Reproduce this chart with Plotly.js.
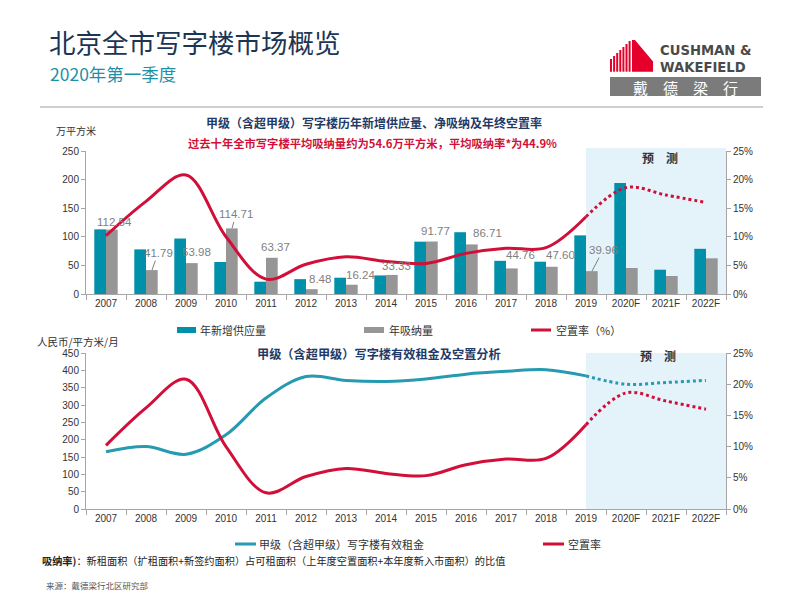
<!DOCTYPE html>
<html>
<head>
<meta charset="utf-8">
<script src="https://cdn.plot.ly/plotly-3.0.1.min.js"></script>
<style>
html,body{margin:0;padding:0;background:#fff;}
#chart{width:800px;height:600px;}
</style>
</head>
<body>
<div id="chart"></div>
<script>
// ---------- DATA ----------
const years = ['2007','2008','2009','2010','2011','2012','2013','2014','2015','2016','2017','2018','2019','2020F','2021F','2022F'];
const newSupply = [113, 78, 97, 56, 21.5, 26, 28.5, 32.5, 91.5, 108, 58, 56.5, 102.5, 194, 42.5, 79];
const netAbsorption = [112.54, 41.79, 53.98, 114.71, 63.37, 8.48, 16.24, 33.33, 91.77, 86.71, 44.76, 47.60, 39.96, 45.5, 31.5, 62.4];
const absorptionLabels = ['112.54','41.79','53.98','114.71','63.37','8.48','16.24','33.33','91.77','86.71','44.76','47.60','39.96'];
const vacancyRate = [0.102, 0.162, 0.208, 0.100, 0.026, 0.052, 0.065, 0.057, 0.0535, 0.071, 0.080, 0.081, 0.135, 0.186, 0.173, 0.160];
const effectiveRent = [165, 180, 158, 214, 320, 382, 371, 368, 375, 389, 397, 402, 384, 360, 365, 371];
const lastActualIndex = 12; // 2019

// ---------- STYLE ----------
const TEAL = 'rgb(0,144,170)';
const GRAY = 'rgb(150,150,150)';
const RED = 'rgb(209,15,56)';
const RENT = 'rgb(38,154,176)';
const NAVY = '#1f3a66';
const AXIS = '#a6a6a6';
const CJK = '"Noto Sans CJK SC", "Noto Sans", sans-serif';
const NUM = '"Liberation Sans", Arial, sans-serif';
// label offsets (px) for absorption value labels: [ax, ay, leader]
const labelOffsets = [[2,-8,0],[6,-17,1],[4,-11,0],[4,-14,1],[3,-11,0],[8,-10,0],[8,-10,0],[4,-9,0],[3,-11,0],[15,-11,0],[8,-13,0],[8,-12,0],[11,-21,1]];

const px = x => x / 800;
const py = y => 1 - y / 600;

function splitSeries(arr) {
  const solid = arr.map((v, i) => i <= lastActualIndex ? v : null);
  const dotted = arr.map((v, i) => i >= lastActualIndex ? v : null);
  return [solid, dotted];
}
const [vacSolid, vacDot] = splitSeries(vacancyRate);
const [rentSolid, rentDot] = splitSeries(effectiveRent);

const traces = [
  {type:'bar', x:years, y:newSupply, name:'年新增供应量', marker:{color:TEAL}, xaxis:'x', yaxis:'y', showlegend:false, hoverinfo:'skip'},
  {type:'bar', x:years, y:netAbsorption, name:'年吸纳量', marker:{color:GRAY}, xaxis:'x', yaxis:'y', showlegend:false, hoverinfo:'skip'},
  {type:'scatter', mode:'lines', x:years, y:vacSolid, name:'空置率（%）', line:{color:RED, width:3, shape:'spline', smoothing:1}, xaxis:'x', yaxis:'y2', showlegend:false, connectgaps:false},
  {type:'scatter', mode:'lines', x:years, y:vacDot, line:{color:RED, width:3, shape:'spline', smoothing:1, dash:'dot'}, xaxis:'x', yaxis:'y2', showlegend:false, connectgaps:false},
  {type:'scatter', mode:'lines', x:years, y:rentSolid, name:'甲级（含超甲级）写字楼有效租金', line:{color:RENT, width:3, shape:'spline', smoothing:1}, xaxis:'x2', yaxis:'y3', showlegend:false},
  {type:'scatter', mode:'lines', x:years, y:rentDot, line:{color:RENT, width:3, shape:'spline', smoothing:1, dash:'dot'}, xaxis:'x2', yaxis:'y3', showlegend:false},
  {type:'scatter', mode:'lines', x:years, y:vacSolid, name:'空置率', line:{color:RED, width:3, shape:'spline', smoothing:1}, xaxis:'x2', yaxis:'y4', showlegend:false},
  {type:'scatter', mode:'lines', x:years, y:vacDot, line:{color:RED, width:3, shape:'spline', smoothing:1, dash:'dot'}, xaxis:'x2', yaxis:'y4', showlegend:false}
];

const xCommon = {
  type:'category', range:[-0.5, 15.5], showline:true, linecolor:AXIS, linewidth:1,
  ticks:'outside', tickson:'boundaries', ticklen:5, tickcolor:AXIS, tickangle:0,
  tickfont:{family:NUM, size:10, color:'#333'}, showgrid:false, zeroline:false, fixedrange:true
};
const yCommon = {
  showline:true, linecolor:AXIS, linewidth:1, ticks:'outside', ticklen:4, tickcolor:AXIS,
  tickfont:{family:NUM, size:10, color:'#333'}, showgrid:false, zeroline:false, fixedrange:true
};

const annotations = [];
function addText(text, x, y, opts) {
  annotations.push(Object.assign({xref:'paper', yref:'paper', x:px(x), y:py(y), text:text, showarrow:false,
    xanchor:'left', yanchor:'middle', font:{family:CJK, size:11, color:'#333'}}, opts || {}));
}

// value labels on absorption bars (x given as category index)
absorptionLabels.forEach((t, i) => {
  const o = labelOffsets[i];
  annotations.push({xref:'x', yref:'y', x:i, y:netAbsorption[i], xshift:6, text:t,
    showarrow:true, ax:o[0], ay:o[1], arrowhead:0, arrowwidth:1,
    arrowcolor: o[2] ? '#7f7f7f' : 'rgba(0,0,0,0)', standoff:0,
    font:{family:NUM, size:11.5, color:'#7f7f7f'}});
});

// header
addText('北京全市写字楼市场概览', 47, 41, {font:{family:CJK, size:26.5, color:'#1c3553'}});
addText('2020年第一季度', 48, 73, {font:{family:CJK, size:17.5, color:'#1e90a8'}});
addText('<b>CUSHMAN &amp;</b>', 659, 59.5, {yanchor:'bottom', borderpad:0, font:{family:'"DejaVu Sans", sans-serif', size:13.2, color:'#4a4a4a'}});
addText('<b>WAKEFIELD</b>', 659, 59.5, {yanchor:'top', borderpad:0, font:{family:'"DejaVu Sans", sans-serif', size:13.2, color:'#4a4a4a'}});
addText('戴　德　梁　行', 685, 87.5, {xanchor:'center', borderpad:0, font:{family:CJK, size:15, color:'#fff'}});

// chart 1 text
addText('<b>甲级（含超甲级）写字楼历年新增供应量、净吸纳及年终空置率</b>', 374, 122, {xanchor:'center', font:{family:CJK, size:12, color:NAVY}});
addText('<b>过去十年全市写字楼平均吸纳量约为54.6万平方米，平均吸纳率*为44.9%</b>', 372, 143, {xanchor:'center', font:{family:CJK, size:11.3, color:RED}});
addText('万平方米', 54, 131, {font:{family:CJK, size:10, color:'#333'}});
addText('<b>预　测</b>', 660, 158, {xanchor:'center', font:{family:CJK, size:12, color:'#333'}});

// chart 1 legend
addText('年新增供应量', 198, 330, {font:{family:CJK, size:11, color:'#333'}});
addText('年吸纳量', 387, 330, {font:{family:CJK, size:11, color:'#333'}});
addText('空置率（%）', 554, 330, {font:{family:CJK, size:11, color:'#333'}});

// chart 2 text
addText('人民币/平方米/月', 35, 341, {font:{family:CJK, size:10.5, color:'#333'}});
addText('<b>甲级（含超甲级）写字楼有效租金及空置分析</b>', 379, 354, {xanchor:'center', font:{family:CJK, size:12.2, color:NAVY}});
addText('<b>预　测</b>', 658, 355, {xanchor:'center', font:{family:CJK, size:12, color:'#333'}});
addText('甲级（含超甲级）写字楼有效租金', 257, 544, {font:{family:CJK, size:11, color:'#333'}});
addText('空置率', 566, 544, {font:{family:CJK, size:11, color:'#333'}});

// footer
addText('<b>吸纳率)</b>：新租面积（扩租面积+新签约面积）占可租面积（上年度空置面积+本年度新入市面积）的比值', 40, 560, {font:{family:CJK, size:10.2, color:'#222'}});
addText('来源：戴德梁行北区研究部', 44, 585, {font:{family:CJK, size:8.5, color:'#555'}});

const shapes = [
  // forecast shading
  {type:'rect', xref:'x', yref:'paper', x0:lastActualIndex, x1:15.5, y0:py(294), y1:py(148), fillcolor:'rgb(228,242,250)', line:{width:0}, layer:'below'},
  {type:'rect', xref:'x2', yref:'paper', x0:lastActualIndex, x1:15.5, y0:py(509), y1:py(353), fillcolor:'rgb(228,242,250)', line:{width:0}, layer:'below'},
  // header rule
  {type:'line', xref:'paper', yref:'paper', x0:px(40), x1:px(763), y0:py(107), y1:py(107), line:{color:'#cfcfcf', width:2}},
  // logo box
  {type:'rect', xref:'paper', yref:'paper', x0:px(610), x1:px(761), y0:py(96), y1:py(77), fillcolor:'#7b7b7b', line:{width:0}},
  // logo solid block
  {type:'path', xref:'paper', yref:'paper', path:'', fillcolor:'#e4002b', line:{width:0}},
  // legend swatches
  {type:'rect', xref:'paper', yref:'paper', x0:px(177), x1:px(196), y0:py(333), y1:py(327), fillcolor:TEAL, line:{width:0}},
  {type:'rect', xref:'paper', yref:'paper', x0:px(364), x1:px(384), y0:py(333), y1:py(327), fillcolor:GRAY, line:{width:0}},
  {type:'line', xref:'paper', yref:'paper', x0:px(531), x1:px(551), y0:py(330), y1:py(330), line:{color:RED, width:3}},
  {type:'line', xref:'paper', yref:'paper', x0:px(235), x1:px(256), y0:py(544), y1:py(544), line:{color:RENT, width:3}},
  {type:'line', xref:'paper', yref:'paper', x0:px(543), x1:px(564), y0:py(544), y1:py(544), line:{color:RED, width:3}}
];
// logo building path in paper coords
const P = (x, y) => px(x).toFixed(4) + ',' + py(y).toFixed(4);
shapes[4].path = 'M' + P(632,40) + ' L' + P(635,40) + ' L' + P(653,61.5) + ' L' + P(653,71.7) + ' L' + P(632,71.7) + ' Z';
for (let i = 0; i < 7; i++) {
  const x0 = 610 + 3.1 * i;
  const top = 59 - i * 3;
  shapes.push({type:'rect', xref:'paper', yref:'paper', x0:px(x0), x1:px(x0 + 2), y0:py(71.7), y1:py(top), fillcolor:'#e4002b', line:{width:0}});
}

const layout = {
  width:800, height:600, margin:{l:0, r:0, t:0, b:0},
  paper_bgcolor:'#fff', plot_bgcolor:'rgba(0,0,0,0)',
  barmode:'group', bargap:0.415, bargroupgap:0,
  showlegend:false,
  xaxis: Object.assign({}, xCommon, {domain:[px(86), px(726)], anchor:'y'}),
  yaxis: Object.assign({}, yCommon, {domain:[py(294), py(151)], range:[0,250], dtick:50, anchor:'x'}),
  yaxis2: Object.assign({}, yCommon, {overlaying:'y', side:'right', anchor:'x', range:[0,0.25], dtick:0.05, tickformat:'.0%'}),
  xaxis2: Object.assign({}, xCommon, {domain:[px(86), px(726)], anchor:'y3'}),
  yaxis3: Object.assign({}, yCommon, {domain:[py(509), py(353)], range:[0,450], dtick:50, anchor:'x2'}),
  yaxis4: Object.assign({}, yCommon, {overlaying:'y3', side:'right', anchor:'x2', range:[0,0.25], dtick:0.05, tickformat:'.0%'}),
  annotations: annotations,
  shapes: shapes
};

Plotly.newPlot('chart', traces, layout, {staticPlot:true, displayModeBar:false});
</script>
</body>
</html>
